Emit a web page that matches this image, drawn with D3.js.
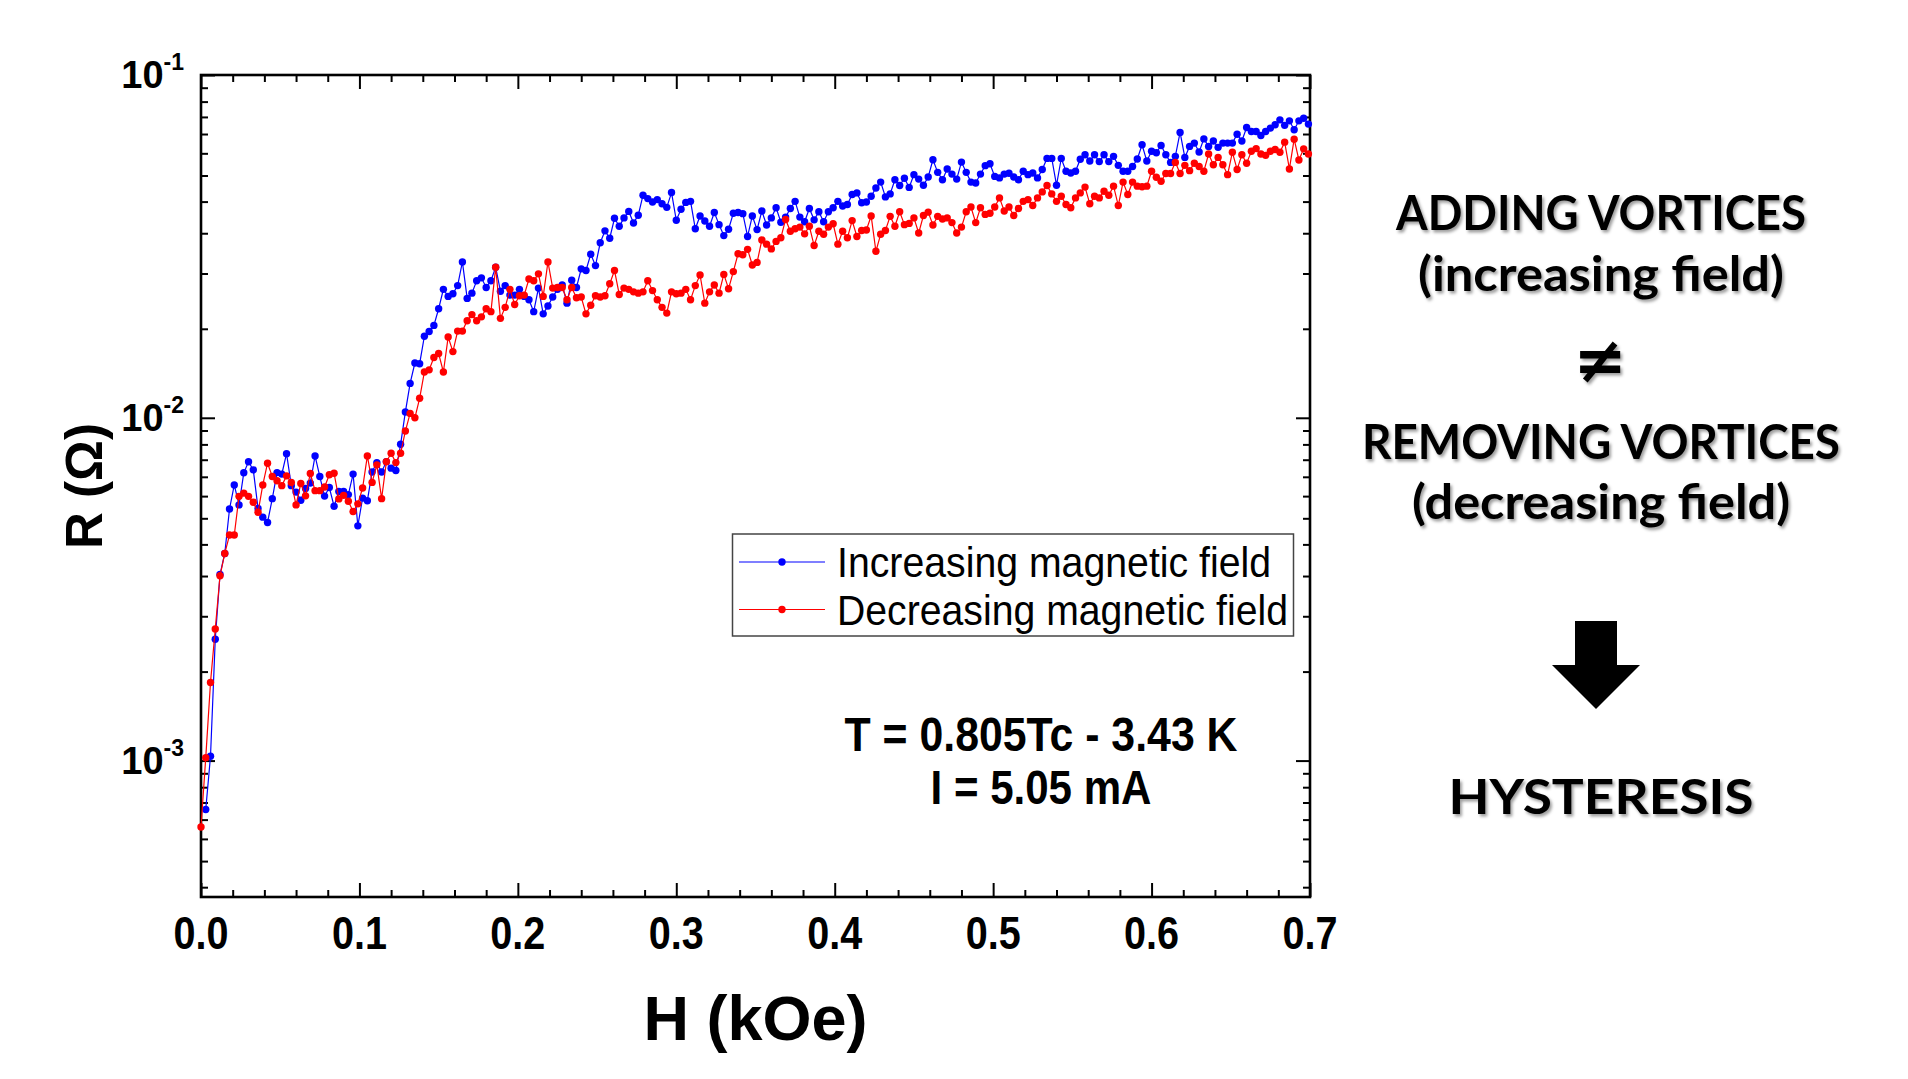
<!DOCTYPE html>
<html>
<head>
<meta charset="utf-8">
<script src="https://cdn.jsdelivr.net/npm/d3@7"></script>
<style>
	html, body { margin:0; padding:0; background:#fff; }
	svg { display:block; }
</style>
</head>
<body>
<div id="chart"></div>
<script>
var WIDTH = 1908;
var HEIGHT = 1079;

// field step between two measurements, kOe
var H_STEP = 0.003;

// R in mOhm, one value per field step. Increasing sweep starts one step later.
var increasingStart = 1;
var increasingR = [
	0.72, 1.03, 2.26, 3.49, 4.02, 5.42, 6.37, 5.57, 6.91, 7.44,
	7.05, 5.44, 5.13, 4.95, 5.81, 6.92, 6.85, 7.86, 6.34, 6.07,
	5.75, 6.22, 6.45, 7.74, 6.74, 5.91, 6.26, 5.52, 6.10, 6.10,
	5.97, 6.85, 4.84, 5.83, 5.73, 6.95, 7.40, 6.95, 7.45, 7.13,
	7.02, 8.37, 10.4, 12.6, 14.45, 14.38, 17.3, 17.85, 18.6, 20.8,
	23.7, 22.6, 23.0, 24.3, 28.5, 22.3, 23.1, 25.1, 25.6, 24.0,
	25.1, 27.5, 23.4, 24.3, 22.8, 22.8, 23.7, 22.6, 22.1, 20.4,
	23.9, 20.1, 21.2, 22.5, 23.7, 24.4, 21.6, 25.2, 24.0, 27.2,
	26.9, 30.0, 27.8, 32.4, 35.1, 33.4, 38.2, 36.2, 38.3, 40.0,
	37.0, 39.0, 44.6, 43.6, 42.6, 43.3, 42.1, 41.1, 45.4, 37.7,
	40.6, 42.5, 42.8, 35.6, 38.8, 37.5, 36.2, 39.7, 36.6, 34.0,
	35.5, 39.5, 39.7, 39.4, 33.8, 38.8, 35.4, 40.1, 36.5, 38.3,
	41.0, 37.2, 38.5, 40.8, 42.8, 38.5, 37.3, 40.8, 37.8, 39.9,
	37.3, 39.9, 41.0, 42.8, 41.5, 41.9, 44.8, 45.3, 42.4, 42.6,
	44.3, 46.8, 48.7, 44.1, 45.0, 49.5, 47.6, 50.0, 47.0, 51.2,
	49.7, 47.7, 50.4, 56.6, 52.0, 49.5, 53.2, 51.4, 49.7, 55.7,
	52.0, 48.7, 48.4, 51.4, 54.4, 55.1, 50.6, 50.1, 51.4, 51.7,
	50.4, 49.5, 52.4, 51.2, 51.8, 50.1, 53.0, 57.1, 57.1, 47.7,
	57.1, 52.4, 51.8, 52.4, 56.8, 58.5, 56.1, 58.5, 55.9, 58.5,
	55.9, 57.9, 54.5, 52.4, 52.4, 54.1, 56.9, 62.6, 56.1, 59.9,
	59.3, 62.3, 58.5, 55.6, 57.9, 68.0, 57.5, 61.9, 63.3, 59.6,
	65.1, 61.9, 64.2, 61.5, 63.3, 63.3, 63.3, 67.2, 64.2, 70.3,
	68.4, 68.4, 66.6, 68.4, 70.0, 71.6, 74.0, 71.3, 73.5, 69.2,
	73.5, 74.8, 71.9
];
var decreasingStart = 0;
var decreasingR = [
	0.64, 1.02, 1.69, 2.42, 3.46, 4.02, 4.55, 4.55, 5.90, 6.03,
	5.90, 5.67, 5.30, 6.37, 7.37, 6.74, 6.55, 6.34, 6.77, 6.48,
	5.57, 6.43, 5.92, 6.88, 6.13, 6.13, 6.28, 6.82, 6.89, 5.80,
	5.94, 5.71, 5.33, 5.61, 6.24, 7.74, 6.48, 7.29, 5.81, 7.44,
	7.88, 7.40, 7.88, 9.15, 10.3, 10.0, 11.4, 13.6, 13.8, 15.0,
	15.4, 13.6, 17.2, 15.6, 17.9, 17.9, 19.2, 20.0, 19.2, 19.7,
	20.8, 20.4, 27.5, 19.5, 21.0, 23.7, 21.4, 22.7, 22.8, 25.4,
	25.1, 26.3, 22.6, 28.5, 23.9, 24.0, 24.0, 22.1, 24.0, 22.4,
	22.5, 20.1, 21.3, 22.7, 22.5, 22.7, 24.6, 26.9, 22.9, 23.9,
	23.7, 23.3, 23.1, 23.3, 25.1, 23.5, 22.1, 21.0, 20.2, 23.3,
	23.0, 23.1, 23.7, 22.1, 24.3, 26.1, 21.6, 23.3, 24.4, 23.1,
	26.2, 23.8, 26.7, 30.1, 29.9, 31.0, 27.9, 28.4, 33.0, 32.1,
	31.1, 32.7, 33.5, 37.9, 35.0, 35.6, 36.0, 34.4, 36.2, 31.8,
	35.0, 34.3, 36.0, 36.8, 32.1, 35.0, 33.5, 37.6, 33.8, 35.2,
	35.3, 38.8, 30.6, 34.3, 35.2, 38.7, 36.2, 39.9, 36.6, 36.9,
	38.3, 34.6, 38.9, 39.8, 36.5, 38.7, 38.0, 38.3, 37.1, 34.6,
	36.0, 39.9, 41.2, 37.1, 41.0, 39.2, 39.5, 41.2, 43.8, 40.1,
	41.2, 38.9, 40.8, 42.8, 43.3, 41.6, 43.8, 45.6, 47.6, 45.0,
	42.8, 44.3, 41.9, 41.0, 43.8, 45.3, 47.1, 42.1, 44.3, 43.8,
	45.8, 44.6, 47.4, 41.6, 48.7, 44.8, 48.7, 47.4, 47.2, 47.4,
	52.4, 50.3, 49.0, 51.6, 51.6, 55.6, 51.6, 54.5, 52.6, 55.3,
	54.1, 52.4, 58.8, 54.7, 57.5, 54.7, 51.2, 59.5, 53.0, 58.5,
	55.3, 59.9, 61.0, 58.8, 58.3, 59.9, 60.6, 59.5, 63.7, 53.2,
	65.0, 56.5, 60.9, 58.8
];

var seriesNames = ["Increasing magnetic field", "Decreasing magnetic field"];
var seriesColours = ["#0000ff", "#ff0000"];

var xTicks = [0, 0.1, 0.2, 0.3, 0.4, 0.5, 0.6, 0.7];
var xTickLabels = ["0.0", "0.1", "0.2", "0.3", "0.4", "0.5", "0.6", "0.7"];
var yTicks = [1e-3, 1e-2, 1e-1];
var yTickExponents = ["-3", "-2", "-1"];

var notes = ["T = 0.805Tc - 3.43 K", "I = 5.05 mA"];
var sideLines = [
	{text: "ADDING VORTICES", y: 230, w: 410},
	{text: "(increasing field)", y: 291, w: 366},
	{text: "REMOVING VORTICES", y: 459, w: 478},
	{text: "(decreasing field)", y: 519, w: 378},
	{text: "HYSTERESIS", y: 814, w: 305}
];

var plot = {left: 201, right: 1310, top: 75, bottom: 897};
var AXIS_FONT = '"Liberation Sans", Arial, sans-serif';

function toPoints(values, start) {
	return values.map(function(v, i) { return {h: (start + i) * H_STEP, r: v / 1000}; });
}
var series = [toPoints(increasingR, increasingStart), toPoints(decreasingR, decreasingStart)];

var svg = d3.select('#chart').append('svg')
	.attr('width', WIDTH).attr('height', HEIGHT)
	.style('font-family', AXIS_FONT);

var defs = svg.append('defs');
var shadow = defs.append('filter').attr('id', 'shadow')
	.attr('x', '-10%').attr('y', '-20%').attr('width', '120%').attr('height', '150%');
shadow.append('feDropShadow').attr('dx', 2).attr('dy', 2.5).attr('stdDeviation', 1.6)
	.attr('flood-color', '#000').attr('flood-opacity', 0.38);

var x = d3.scaleLinear().domain([0, 0.7]).range([plot.left, plot.right]);
var y = d3.scaleLog().domain([4e-4, 0.1]).range([plot.bottom, plot.top]);

// minor ticks: Origin puts 10 evenly spaced ticks inside each decade
var yMinor = [];
[1e-4, 1e-3, 1e-2].forEach(function(b) {
	for(var j = 1; j <= 10; j++) {
		var v = b * (1 + 9 * j / 11);
		if(v > y.domain()[0] && v < y.domain()[1]) yMinor.push(v);
	}
});
var xMinor = d3.range(1, 35).map(function(i) { return i * 0.02; })
	.filter(function(v) { return Math.abs(v * 10 - Math.round(v * 10)) > 1e-6; });

function ticks(axis, values, size, transform) {
	var g = svg.append('g').attr('transform', transform)
		.call(axis.tickValues(values).tickSize(-size).tickFormat(''));
	g.select('.domain').remove();
	g.selectAll('line').attr('stroke', '#000').attr('stroke-width', 2);
}
ticks(d3.axisBottom(x), xTicks, 14, 'translate(0,' + plot.bottom + ')');
ticks(d3.axisBottom(x), xMinor, 7, 'translate(0,' + plot.bottom + ')');
ticks(d3.axisTop(x), xTicks, 14, 'translate(0,' + plot.top + ')');
ticks(d3.axisTop(x), xMinor, 7, 'translate(0,' + plot.top + ')');
ticks(d3.axisLeft(y), yTicks, 14, 'translate(' + plot.left + ',0)');
ticks(d3.axisLeft(y), yMinor, 7, 'translate(' + plot.left + ',0)');
ticks(d3.axisRight(y), yTicks, 14, 'translate(' + plot.right + ',0)');
ticks(d3.axisRight(y), yMinor, 7, 'translate(' + plot.right + ',0)');

svg.append('rect')
	.attr('x', plot.left).attr('y', plot.top)
	.attr('width', plot.right - plot.left).attr('height', plot.bottom - plot.top)
	.attr('fill', 'none').attr('stroke', '#000').attr('stroke-width', 2.6);

// tick labels
svg.append('g').selectAll('text').data(xTicks).join('text')
	.attr('x', function(d) { return x(d); }).attr('y', 949)
	.attr('text-anchor', 'middle')
	.attr('font-size', 47).attr('font-weight', 'bold')
	.attr('textLength', 55).attr('lengthAdjust', 'spacingAndGlyphs')
	.text(function(d, i) { return xTickLabels[i]; });

var yLabels = svg.append('g').selectAll('text').data(yTicks).join('text')
	.attr('x', 184).attr('y', function(d) { return y(d) + 13; })
	.attr('text-anchor', 'end').attr('font-weight', 'bold');
yLabels.append('tspan').attr('font-size', 38).text('10');
yLabels.append('tspan').attr('font-size', 23).attr('dy', -18)
	.text(function(d, i) { return yTickExponents[i]; });

// axis titles
svg.append('text')
	.attr('x', (plot.left + plot.right) / 2).attr('y', 1040)
	.attr('text-anchor', 'middle').attr('font-size', 63).attr('font-weight', 'bold')
	.text('H (kOe)');
svg.append('text')
	.attr('transform', 'translate(102,' + (plot.top + plot.bottom) / 2 + ') rotate(-90)')
	.attr('text-anchor', 'middle').attr('font-size', 51).attr('font-weight', 'bold')
	.text('R (\u03A9)');

// data
var line = d3.line().x(function(d) { return x(d.h); }).y(function(d) { return y(d.r); });
series.forEach(function(pts, i) {
	var g = svg.append('g');
	g.append('path').datum(pts).attr('d', line)
		.attr('fill', 'none').attr('stroke', seriesColours[i]).attr('stroke-width', 1.2);
	g.selectAll('circle').data(pts).join('circle')
		.attr('cx', function(d) { return x(d.h); }).attr('cy', function(d) { return y(d.r); })
		.attr('r', 3.7).attr('fill', seriesColours[i]);
});

// legend
var legend = svg.append('g');
legend.append('rect')
	.attr('x', 732.5).attr('y', 534).attr('width', 561).attr('height', 102)
	.attr('fill', '#fff').attr('stroke', '#444').attr('stroke-width', 1.5);
var legendWidths = [434, 451];
seriesNames.forEach(function(name, i) {
	var ly = 562 + i * 47.5;
	legend.append('line').attr('x1', 739).attr('x2', 825).attr('y1', ly).attr('y2', ly)
		.attr('stroke', seriesColours[i]).attr('stroke-width', 1.2);
	legend.append('circle').attr('cx', 782).attr('cy', ly).attr('r', 3.7).attr('fill', seriesColours[i]);
	legend.append('text').attr('x', 837).attr('y', ly + 15)
		.attr('font-size', 43)
		.attr('textLength', legendWidths[i]).attr('lengthAdjust', 'spacingAndGlyphs')
		.text(name);
});

// measurement conditions
var noteWidths = [393, 221];
notes.forEach(function(t, i) {
	svg.append('text').attr('x', 1041).attr('y', 751 + i * 53)
		.attr('text-anchor', 'middle').attr('font-size', 49).attr('font-weight', 'bold')
		.attr('textLength', noteWidths[i]).attr('lengthAdjust', 'spacingAndGlyphs')
		.text(t);
});

// side message
var side = svg.append('g').attr('filter', 'url(#shadow)')
	.style('font-family', 'Lato, "Open Sans", sans-serif').attr('font-weight', 'bold');
sideLines.forEach(function(l) {
	side.append('text').attr('x', 1601).attr('y', l.y)
		.attr('text-anchor', 'middle').attr('font-size', 48)
		.attr('textLength', l.w).attr('lengthAdjust', 'spacingAndGlyphs')
		.text(l.text);
});
side.append('text').attr('x', 1600).attr('y', 382)
	.attr('text-anchor', 'middle').attr('font-size', 64)
	.style('font-family', '"DejaVu Sans", sans-serif')
	.text('\u2260');

var ax = 1596, aTop = 621, aMid = 665, aTip = 709, shaftHalf = 21, headHalf = 44;
svg.append('path')
	.attr('d', 'M' + (ax - shaftHalf) + ',' + aTop + 'H' + (ax + shaftHalf) + 'V' + aMid +
		'H' + (ax + headHalf) + 'L' + ax + ',' + aTip + 'L' + (ax - headHalf) + ',' + aMid +
		'H' + (ax - shaftHalf) + 'Z')
	.attr('fill', '#000');
</script>
</body>
</html>
